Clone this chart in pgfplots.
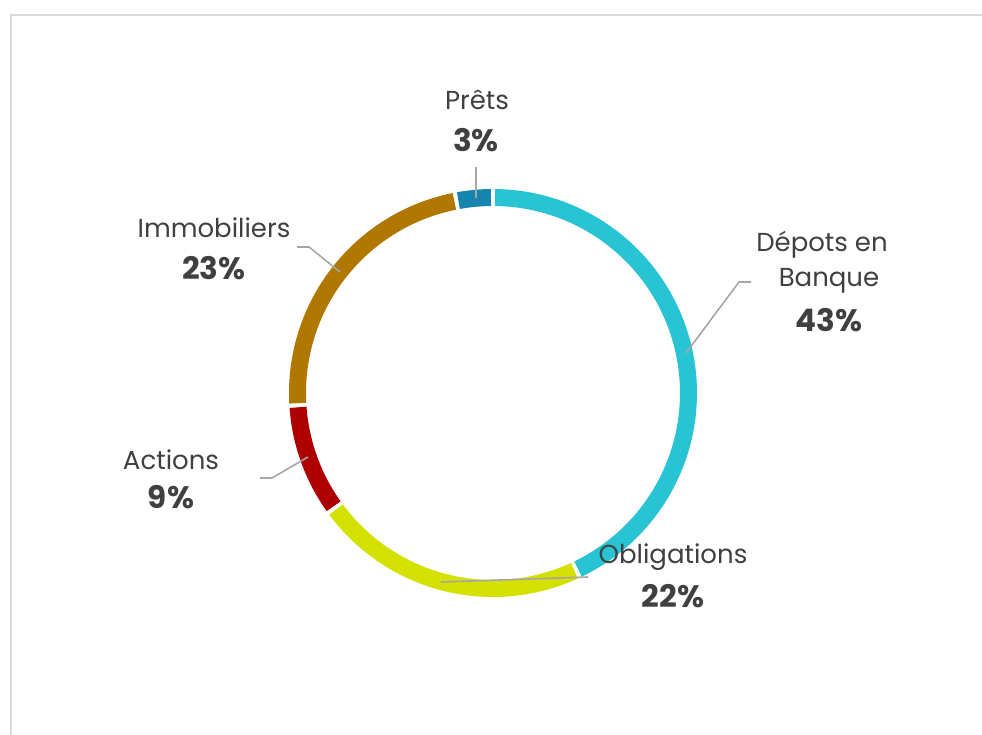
\documentclass[border=0pt]{standalone}
\usepackage{fontspec}
\setmainfont{Poppins}
\usepackage{pgfplots}
\pgfplotsset{compat=1.18}
\usepgfplotslibrary{polar}
\definecolor{cDep}{HTML}{28C4D4}
\definecolor{cObl}{HTML}{D4E000}
\definecolor{cAct}{HTML}{AF0000}
\definecolor{cImm}{HTML}{B07800}
\definecolor{cPre}{HTML}{1685AE}
\definecolor{txt}{HTML}{404040}
\definecolor{lead}{HTML}{A6A6A6}
\definecolor{frame}{HTML}{D9D9D9}
% shares (percent), clockwise from the top
\def\vA{43}\def\vB{22}\def\vC{9}\def\vD{23}\def\vE{3}
\def\gap{0.6}
\pgfmathsetmacro{\aA}{90}
\pgfmathsetmacro{\aB}{\aA-3.6*\vA}
\pgfmathsetmacro{\aC}{\aB-3.6*\vB}
\pgfmathsetmacro{\aD}{\aC-3.6*\vC}
\pgfmathsetmacro{\aE}{\aD-3.6*\vD}
\pgfmathsetmacro{\aF}{\aE-3.6*\vE}
\newcommand{\pct}[1]{{\fontsize{15.5pt}{17pt}\selectfont\bfseries #1}}
\begin{document}
\begin{tikzpicture}[x=0.5pt,y=0.5pt]
\useasboundingbox (0,0) rectangle (982,735);
\draw[frame,line width=1pt] (11,0) -- (11,720) -- (982,720);
\begin{polaraxis}[
  at={(493,342)}, anchor=center,
  scale only axis, width=205pt, height=205pt,
  ymin=0, ymax=205, hide axis, clip=false,
]
\addplot[cDep,line width=8.5pt,domain={\aB+\gap}:{\aA-\gap},samples=120] {195.5};
\addplot[cObl,line width=8.5pt,domain={\aC+\gap}:{\aB-\gap},samples=80] {195.5};
\addplot[cAct,line width=8.5pt,domain={\aD+\gap}:{\aC-\gap},samples=40] {195.5};
\addplot[cImm,line width=8.5pt,domain={\aE+\gap}:{\aD-\gap},samples=80] {195.5};
\addplot[cPre,line width=8.5pt,domain={\aF+\gap}:{\aE-\gap},samples=20] {195.5};
\end{polaraxis}
% leader lines
\begin{scope}[lead,line width=0.8pt]
\draw (476,568) -- (476,537);
\draw (751,453) -- (739,453) -- (686,382);
\draw (588,158) -- (441,153);
\draw (297,488) -- (309,488) -- (340,463);
\draw (260,257) -- (272,257) -- (308,278);
\end{scope}
% labels
\begin{scope}[every node/.style={text=txt,font=\fontsize{13pt}{15pt}\selectfont,inner sep=0pt}]
\node at (477,635) {Prêts};
\node at (476,595) {\pct{3\%}};
\node at (822,490) {Dépots en};
\node at (829,454) {Banque};
\node at (829,415) {\pct{43\%}};
\node at (673,178) {Obligations};
\node at (673,139) {\pct{22\%}};
\node at (171,275) {Actions};
\node at (171,238) {\pct{9\%}};
\node at (214,507) {Immobiliers};
\node at (214,467) {\pct{23\%}};
\end{scope}
\end{tikzpicture}
\end{document}
